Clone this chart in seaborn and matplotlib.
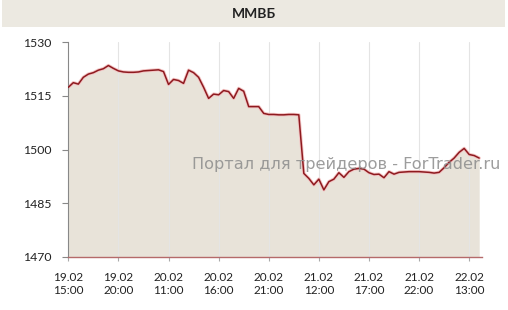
import numpy as np
import pandas as pd
import matplotlib
matplotlib.use("Agg")
import matplotlib.pyplot as plt
from matplotlib.patches import Rectangle
import seaborn as sns

title = "ММВБ"
watermark = "Портал для трейдеров - ForTrader.ru"

values = [
    1517.4, 1518.7, 1518.3, 1520.2, 1521.1, 1521.5, 1522.2, 1522.6, 1523.5, 1522.7,
    1522.0, 1521.7, 1521.6, 1521.6, 1521.7, 1522.0, 1522.1, 1522.2, 1522.3, 1521.8,
    1518.2, 1519.6, 1519.3, 1518.5, 1522.2, 1521.5, 1520.2, 1517.4, 1514.3, 1515.5,
    1515.3, 1516.5, 1516.2, 1514.3, 1517.1, 1516.3, 1512.0, 1512.0, 1512.0, 1510.1,
    1509.8, 1509.8, 1509.7, 1509.7, 1509.8, 1509.8, 1509.7, 1493.3, 1491.9, 1490.1,
    1491.7, 1488.7, 1491.0, 1491.7, 1493.5, 1492.2, 1493.8, 1494.5, 1494.7, 1494.5,
    1493.5, 1493.0, 1493.1, 1492.1, 1493.8, 1493.1, 1493.6, 1493.7, 1493.8, 1493.8,
    1493.8, 1493.7, 1493.6, 1493.4, 1493.6, 1494.9, 1496.4, 1497.6, 1499.2, 1500.3,
    1498.6, 1498.3, 1497.6,
]
x_tick_labels = [
    "19.02\n15:00", "19.02\n20:00", "20.02\n11:00", "20.02\n16:00", "20.02\n21:00",
    "21.02\n12:00", "21.02\n17:00", "21.02\n22:00", "22.02\n13:00",
]
y_ticks = [1470, 1485, 1500, 1515, 1530]

df = pd.DataFrame({"idx": np.arange(len(values)), "value": values})

sns.set_style("white")
plt.rcParams["font.family"] = ["Lato", "DejaVu Sans"]

fig = plt.figure(figsize=(5.08, 3.10), dpi=100)
fig.patch.set_facecolor("white")
fig.patches.append(Rectangle((2 / 508, 1 - 27 / 310), 503 / 508, 27 / 310,
                             transform=fig.transFigure, facecolor="#ECE9E1",
                             edgecolor="none", zorder=0))
fig.text(254 / 508, 1 - 14.5 / 310, title, ha="center", va="center",
         fontsize=10, fontweight="bold", color="#222222")

ax = fig.add_axes([68.3 / 508, 53.3 / 310, 413.4 / 508, 214.4 / 310])
ax.set_facecolor("white")

ax.fill_between(df["idx"], df["value"], 1470, color="#E8E3D9", linewidth=0, zorder=1)
sns.lineplot(data=df, x="idx", y="value", ax=ax, color="#F3C4C4", linewidth=2.4,
             zorder=2, legend=False)
sns.lineplot(data=df, x="idx", y="value", ax=ax, color="#8E1A1F", linewidth=1.1,
             zorder=3, legend=False)

ax.set_xlim(0, 82.5)
ax.set_ylim(1470, 1530)
ax.set_xticks(np.arange(0, 81, 10))
ax.set_xticklabels(x_tick_labels, fontsize=8.5, color="#222222", linespacing=1.25)
ax.set_yticks(y_ticks)
ax.set_yticklabels([str(v) for v in y_ticks], fontsize=8.8, color="#222222")
ax.set_xlabel("")
ax.set_ylabel("")

for xv in np.arange(10, 81, 10):
    ax.axvline(xv, color="#E4E4E4", linewidth=0.8, zorder=1.5)

ax.tick_params(axis="y", direction="out", length=4, width=0.8, color="#888888", pad=8, left=True)
ax.tick_params(axis="x", direction="out", length=3, width=0.8, color="#AAAAAA", pad=8, bottom=True)

for s in ["top", "right"]:
    ax.spines[s].set_visible(False)
ax.spines["left"].set_color("#888888")
ax.spines["left"].set_linewidth(0.8)
ax.spines["bottom"].set_color("#B56A6A")
ax.spines["bottom"].set_linewidth(1.0)
ax.spines["bottom"].set_zorder(4)

fig.text(192 / 508, 1 - 165 / 310, watermark, ha="left", va="center",
         fontsize=11.6, color="#8C8C8C", alpha=0.85, family=["DejaVu Sans"], zorder=10)

fig.savefig("out.png", dpi=100)
